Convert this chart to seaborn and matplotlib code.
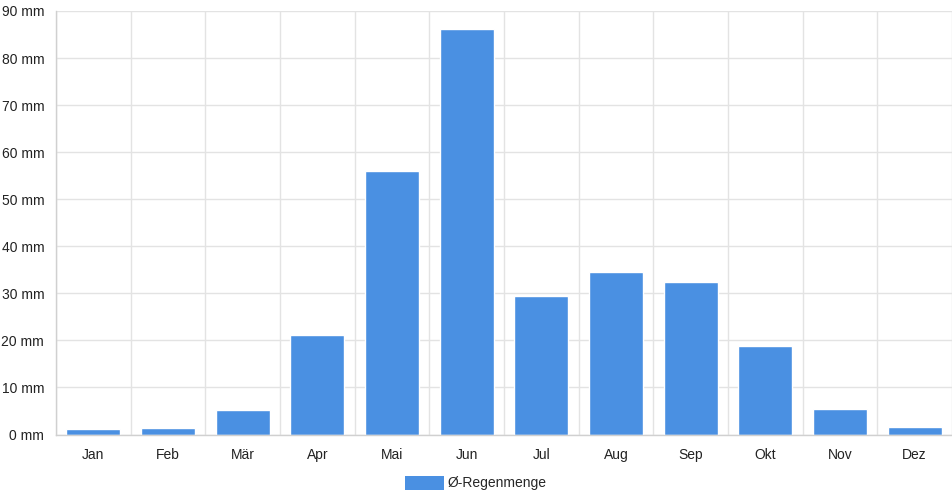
import matplotlib
matplotlib.use("Agg")
import matplotlib.pyplot as plt
import numpy as np
import pandas as pd
import seaborn as sns
from matplotlib.patches import Patch

months = ['Jan', 'Feb', 'Mär', 'Apr', 'Mai', 'Jun', 'Jul', 'Aug', 'Sep', 'Okt', 'Nov', 'Dez']
rain = [1.2, 1.35, 5.2, 21.1, 56.0, 86.1, 29.4, 34.5, 32.4, 18.9, 5.4, 1.5]
y_ticks = [0, 10, 20, 30, 40, 50, 60, 70, 80, 90]
series_name = 'Ø-Regenmenge'

df = pd.DataFrame({'Monat': months, 'Regen': rain})

sns.set_style("white")
plt.rcParams['font.family'] = ['Liberation Sans', 'DejaVu Sans']

bar_col = '#4a90e2'
grid_col = '#e3e3e3'

fig = plt.figure(figsize=(9.52, 5), dpi=100)
ax = fig.add_axes([56 / 952, 1 - 434.5 / 500, 1 - 56 / 952, (434.5 - 11) / 500])

sns.barplot(data=df, x='Monat', y='Regen', color=bar_col, saturation=1, width=0.72, ax=ax)

ax.set_xlim(-0.5, 11.5)
ax.set_ylim(0, 90)
ax.set_yticks(y_ticks)
ax.set_yticklabels([f'{v} mm' for v in y_ticks])
ax.set_xlabel('')
ax.set_ylabel('')

# vertical grid lines between categories
ax.set_xticks(np.arange(-0.5, 12, 1), minor=True)
ax.grid(True, axis='y', color=grid_col, linewidth=1)
ax.grid(True, axis='x', which='minor', color=grid_col, linewidth=1)
ax.set_axisbelow(True)

ax.tick_params(axis='x', which='major', length=0, pad=10, labelsize=10)
ax.tick_params(axis='x', which='minor', length=8, color=grid_col, width=1)
ax.tick_params(axis='y', length=6, color=grid_col, width=1, pad=2.5, labelsize=10)
for lab in ax.get_xticklabels() + ax.get_yticklabels():
    lab.set_color('#222222')

for s in ['top', 'right']:
    ax.spines[s].set_visible(False)
for s in ['left', 'bottom']:
    ax.spines[s].set_color('#d0d0d0')
    ax.spines[s].set_linewidth(1)

handle = Patch(facecolor=bar_col, edgecolor='none', label=series_name)
fig.legend(handles=[handle], loc='center', bbox_to_anchor=(0.5, 1 - 483 / 500),
           frameon=False, fontsize=10, handlelength=2.8, handleheight=1.2,
           handletextpad=0.3)

fig.savefig('out.png', dpi=100)
